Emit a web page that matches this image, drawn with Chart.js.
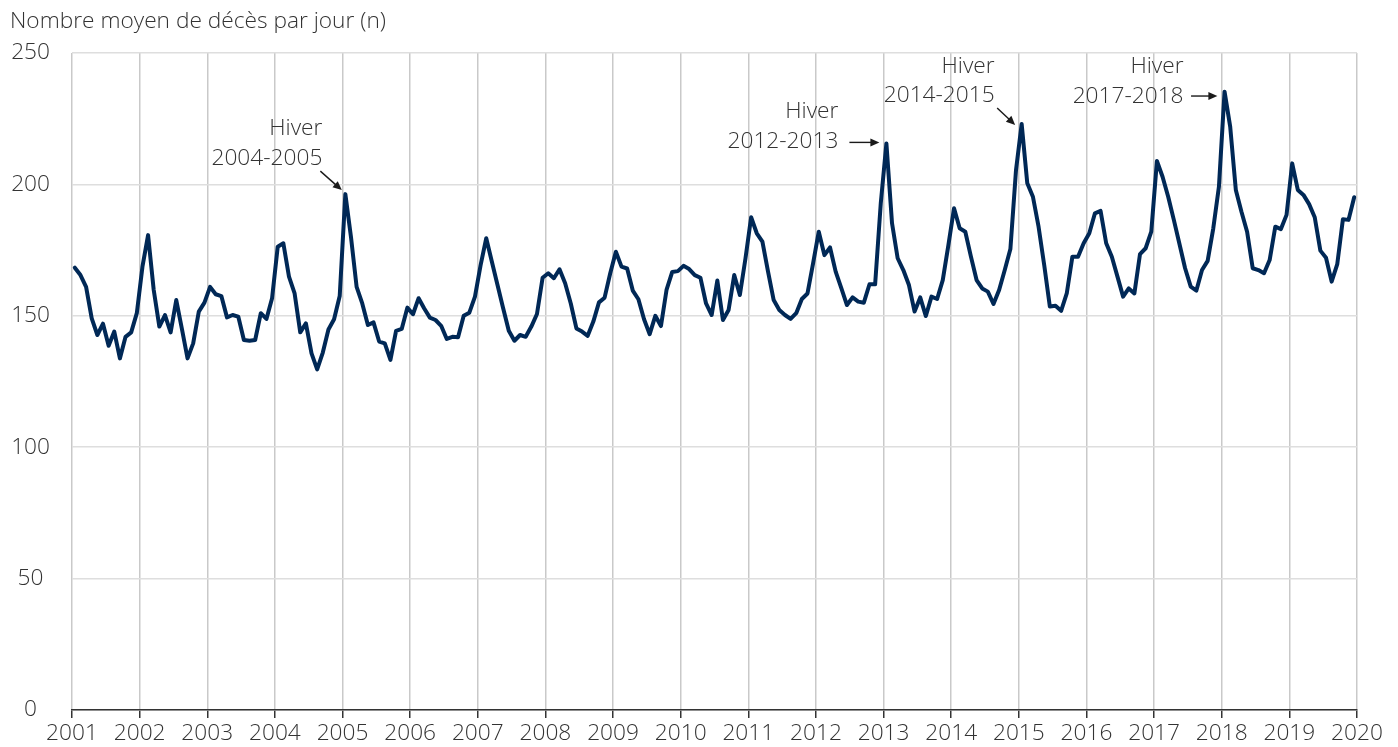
<!DOCTYPE html>
<html>
<head>
<meta charset="utf-8">
<script src="https://cdn.jsdelivr.net/npm/chart.js@4.4.1/dist/chart.umd.min.js"></script>
<style>
  html, body { margin: 0; padding: 0; background: #ffffff; }
  #wrap { width: 1398px; height: 747px; position: relative; }
</style>
</head>
<body>
<div id="wrap"><canvas id="c" width="1398" height="747"></canvas></div>
<script>
// ---- DATA ----
const startYear = 2001;
const yAxisTitle = "Nombre moyen de décès par jour (n)";
const yTicks = [0, 50, 100, 150, 200, 250];
const xTickYears = [2001,2002,2003,2004,2005,2006,2007,2008,2009,2010,2011,2012,2013,2014,2015,2016,2017,2018,2019,2020];

// Monthly mean deaths per day, Jan 2001 .. Dec 2019
const deaths2001 = [168.3,165.5,161.0,149.0,142.7,147.0,138.6,144.0,133.8,142.0,143.7,151.0];
const deaths2002 = [168.7,180.7,159.8,145.9,150.3,143.7,156.0,145.0,133.8,139.5,151.6,155.0];
const deaths2003 = [161.0,158.2,157.5,149.4,150.3,149.7,140.8,140.5,140.8,151.0,148.8,156.7];
const deaths2004 = [176.3,177.6,164.9,158.5,143.7,147.1,135.7,129.6,136.0,144.8,148.7,157.5];
const deaths2005 = [196.3,180.0,161.0,154.7,146.5,147.5,140.2,139.5,133.2,144.3,145.0,153.1];
const deaths2006 = [150.6,156.7,152.8,149.3,148.4,146.2,141.2,142.0,141.8,150.0,151.2,157.3];
const deaths2007 = [169.3,179.5,170.6,161.7,152.9,144.3,140.5,142.7,142.0,145.9,150.7,164.5];
const deaths2008 = [166.2,164.3,167.7,162.4,154.7,145.2,144.0,142.4,147.8,155.1,156.9,166.2];
const deaths2009 = [174.4,168.7,168.0,159.6,156.3,148.7,143.0,150.0,146.1,160.0,166.7,167.0];
const deaths2010 = [169.0,167.8,165.5,164.5,154.7,150.3,163.4,148.4,152.2,165.5,157.9,171.9];
const deaths2011 = [187.5,181.4,178.2,166.8,156.0,152.2,150.3,148.8,151.0,156.4,158.5,170.0];
const deaths2012 = [182.0,173.1,176.0,166.8,160.5,154.1,157.0,155.4,155.0,162.0,162.0,192.8];
const deaths2013 = [215.6,185.2,171.9,167.4,161.7,151.6,157.0,149.9,157.3,156.4,163.6,176.9];
const deaths2014 = [190.9,183.3,182.0,172.5,163.6,160.4,159.2,154.5,159.8,167.4,175.4,205.5];
const deaths2015 = [223.0,200.4,195.3,183.9,169.3,153.5,153.8,151.9,158.5,172.5,172.5,177.6];
const deaths2016 = [181.4,189.0,189.9,177.6,172.5,164.9,157.3,160.4,158.5,173.5,175.7,182.0];
const deaths2017 = [208.9,202.9,195.3,186.5,177.3,168.1,161.1,159.6,167.4,170.9,183.3,199.1];
const deaths2018 = [235.3,222.0,197.9,189.6,182.0,168.1,167.4,166.2,171.2,183.9,183.0,188.4];
const deaths2019 = [208.0,197.9,196.0,192.5,187.5,174.8,172.1,163.0,169.7,186.7,186.5,195.1];

const deathsByYear = [deaths2001,deaths2002,deaths2003,deaths2004,deaths2005,deaths2006,deaths2007,
  deaths2008,deaths2009,deaths2010,deaths2011,deaths2012,deaths2013,deaths2014,deaths2015,
  deaths2016,deaths2017,deaths2018,deaths2019];

// Winter peak annotations (year, month index of peak, text lines)
const winterLabels = [
  { year: 2005, month: 0, lines: ["Hiver", "2004-2005"] },
  { year: 2013, month: 0, lines: ["Hiver", "2012-2013"] },
  { year: 2015, month: 0, lines: ["Hiver", "2014-2015"] },
  { year: 2018, month: 0, lines: ["Hiver", "2017-2018"] }
];

// ---- BUILD POINTS (monthly dates as decimal years, mid-month) ----
const points = [];
deathsByYear.forEach((arr, yi) => {
  arr.forEach((v, m) => points.push({ x: startYear + yi + (m + 0.5) / 12, y: v }));
});

// ---- STYLE / LAYOUT ----
const FONT = "'Open Sans', 'Noto Sans', 'DejaVu Sans', sans-serif";
const TEXT = '#333333';
const WEIGHT = 300;
const FSIZE = 22.7;
// layout of annotation relative to the peak point (pixels): text right edge, baselines, arrow start/end
const annLayout = [
  { tx: -23, b1: -59, b2: -29, ax0: -25, ay0: -23, ax1: -3.5, ay1: -4 },
  { tx: -48, b1: -25, b2: 5,   ax0: -37, ay0: -1,  ax1: -7,   ay1: -1 },
  { tx: -27, b1: -51, b2: -22, ax0: -24.5, ay0: -16, ax1: -6.5, ay1: 1 },
  { tx: -41, b1: -19, b2: 11,  ax0: -33.5, ay0: 4.4, ax1: -7.2, ay1: 4.4 }
];

const annotPlugin = {
  id: 'annot',
  afterDraw(chart) {
    const ctx = chart.ctx;
    const xs = chart.scales.x, ys = chart.scales.y;
    ctx.save();
    // axis title
    ctx.font = WEIGHT + ' ' + FSIZE + 'px ' + FONT;
    ctx.fillStyle = TEXT;
    ctx.textAlign = 'left';
    ctx.textBaseline = 'alphabetic';
    ctx.fillText(yAxisTitle, 10, 28);

    winterLabels.forEach((a, k) => {
      const L = annLayout[k];
      const yi = a.year - startYear;
      const v = deathsByYear[yi][a.month];
      const px = xs.getPixelForValue(startYear + yi + (a.month + 0.5) / 12);
      const py = ys.getPixelForValue(v);
      ctx.fillStyle = TEXT;
      ctx.textAlign = 'right';
      ctx.font = WEIGHT + ' ' + FSIZE + 'px ' + FONT;
      ctx.fillText(a.lines[0], px + L.tx, py + L.b1);
      ctx.fillText(a.lines[1], px + L.tx, py + L.b2);
      // arrow
      const x0 = px + L.ax0, y0 = py + L.ay0, x1 = px + L.ax1, y1 = py + L.ay1;
      const ang = Math.atan2(y1 - y0, x1 - x0);
      const hl = 9, hw = 4;
      ctx.strokeStyle = '#1a1a1a';
      ctx.fillStyle = '#1a1a1a';
      ctx.lineWidth = 1.4;
      ctx.beginPath();
      ctx.moveTo(x0, y0);
      ctx.lineTo(x1 - Math.cos(ang) * hl * 0.8, y1 - Math.sin(ang) * hl * 0.8);
      ctx.stroke();
      ctx.beginPath();
      ctx.moveTo(x1, y1);
      ctx.lineTo(x1 - Math.cos(ang) * hl + Math.sin(ang) * hw, y1 - Math.sin(ang) * hl - Math.cos(ang) * hw);
      ctx.lineTo(x1 - Math.cos(ang) * hl - Math.sin(ang) * hw, y1 - Math.sin(ang) * hl + Math.cos(ang) * hw);
      ctx.closePath();
      ctx.fill();
    });
    ctx.restore();
  }
};

new Chart(document.getElementById('c'), {
  type: 'line',
  data: {
    datasets: [{
      data: points,
      borderColor: '#002856',
      borderWidth: 4,
      pointRadius: 0,
      tension: 0,
      fill: false,
      borderJoinStyle: 'round',
      borderCapStyle: 'round'
    }]
  },
  options: {
    responsive: false,
    animation: false,
    events: [],
    layout: { padding: { top: 53, right: 41, left: 0, bottom: 0 } },
    plugins: { legend: { display: false }, tooltip: { enabled: false }, title: { display: false } },
    scales: {
      x: {
        type: 'linear',
        min: xTickYears[0],
        max: xTickYears[xTickYears.length - 1],
        afterBuildTicks: (s) => { s.ticks = xTickYears.map(v => ({ value: v })); },
        afterFit: (s) => { s.height = 37; },
        ticks: {
          autoSkip: false, maxRotation: 0, padding: 2,
          color: TEXT, font: { family: FONT, size: FSIZE, weight: WEIGHT },
          callback: (v) => String(v)
        },
        grid: { color: '#c9c9c9', lineWidth: 1.5, tickColor: '#333333', tickLength: 8, drawOnChartArea: true },
        border: { display: true, color: '#333333', width: 1.5 }
      },
      y: {
        min: yTicks[0],
        max: yTicks[yTicks.length - 1],
        afterBuildTicks: (s) => { s.ticks = yTicks.map(v => ({ value: v })); },
        afterFit: (s) => { s.width = 72; },
        ticks: {
          color: TEXT, font: { family: FONT, size: FSIZE, weight: WEIGHT },
          padding: 22, crossAlign: 'center'
        },
        grid: { color: '#dedede', lineWidth: 1.5, drawTicks: false },
        border: { display: false }
      }
    }
  },
  plugins: [annotPlugin]
});
</script>
</body>
</html>
